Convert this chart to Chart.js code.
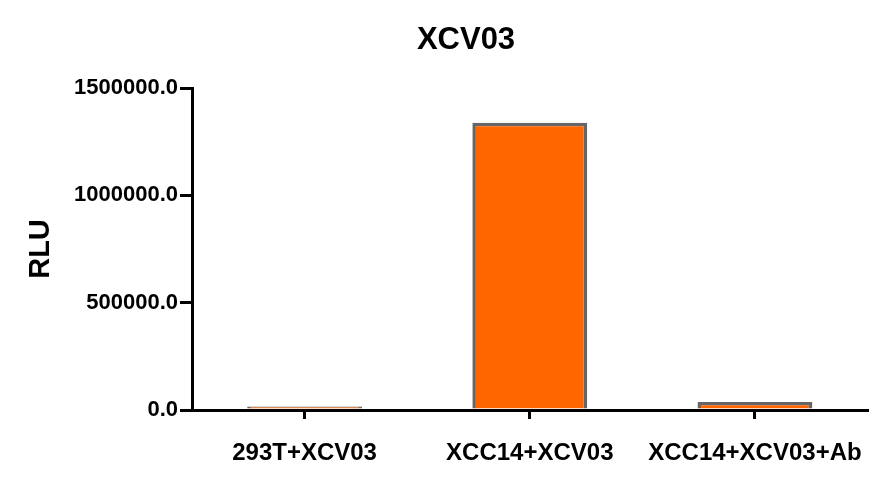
<!DOCTYPE html>
<html>
<head>
<meta charset="utf-8">
<script src="https://cdn.jsdelivr.net/npm/chart.js@4"></script>
<style>
html,body{margin:0;padding:0;background:#fff;}
#wrap{width:884px;height:489px;position:relative;}
</style>
</head>
<body>
<div id="wrap"><canvas id="c" width="884" height="489"></canvas></div>
<script>
const chartTitle = "XCV03";
const yAxisTitle = "RLU";
const categories = ["293T+XCV03", "XCC14+XCV03", "XCC14+XCV03+Ab"];
const rluValues = [16000, 1338000, 37000];
const yTickValues = [0, 500000, 1000000, 1500000];

const titlePlugin = {
  id: 'centerTitle',
  afterDraw(chart) {
    const ctx = chart.ctx;
    ctx.save();
    ctx.font = 'bold 31px "Liberation Sans", Arial, sans-serif';
    ctx.fillStyle = '#000';
    ctx.textAlign = 'center';
    ctx.textBaseline = 'middle';
    ctx.fillText(chartTitle, 466, 40);
    ctx.restore();
  }
};

new Chart(document.getElementById('c'), {
  type: 'bar',
  data: {
    labels: categories,
    datasets: [{
      data: rluValues,
      backgroundColor: '#FF6600',
      borderColor: '#666666',
      borderWidth: 3.5,
      barPercentage: 0.51,
      categoryPercentage: 1.0
    }]
  },
  plugins: [titlePlugin],
  options: {
    responsive: false,
    animation: false,
    layout: { padding: { top: 88, right: 14, bottom: 0, left: 0 } },
    plugins: { legend: { display: false }, tooltip: { enabled: false }, title: { display: false } },
    scales: {
      x: {
        z: 1,
        grid: { offset: false, drawOnChartArea: false, drawTicks: true, tickLength: 9, color: '#000', lineWidth: 3 },
        border: { display: true, color: '#000', width: 3 },
        ticks: {
          color: '#000',
          padding: 20,
          maxRotation: 0,
          font: { family: '"Liberation Sans", Arial, sans-serif', size: 24, weight: 'bold' }
        },
        afterFit(scale) { scale.height = 79; }
      },
      y: {
        min: 0,
        max: 1500000,
        afterBuildTicks(scale) { scale.ticks = yTickValues.map(v => ({ value: v })); },
        grid: { drawOnChartArea: false, drawTicks: true, tickLength: 12, color: '#000', lineWidth: 3 },
        border: { display: true, color: '#000', width: 3 },
        ticks: {
          color: '#000',
          padding: 2,
          font: { family: '"Liberation Sans", Arial, sans-serif', size: 22, weight: 'bold' },
          callback: (v) => Number(v).toFixed(1)
        },
        title: {
          display: true,
          text: yAxisTitle,
          color: '#000',
          padding: { top: 24, bottom: 0 },
          font: { family: '"Liberation Sans", Arial, sans-serif', size: 29, weight: 'bold' }
        },
        afterFit(scale) { scale.width = 192; }
      }
    }
  }
});
</script>
</body>
</html>
